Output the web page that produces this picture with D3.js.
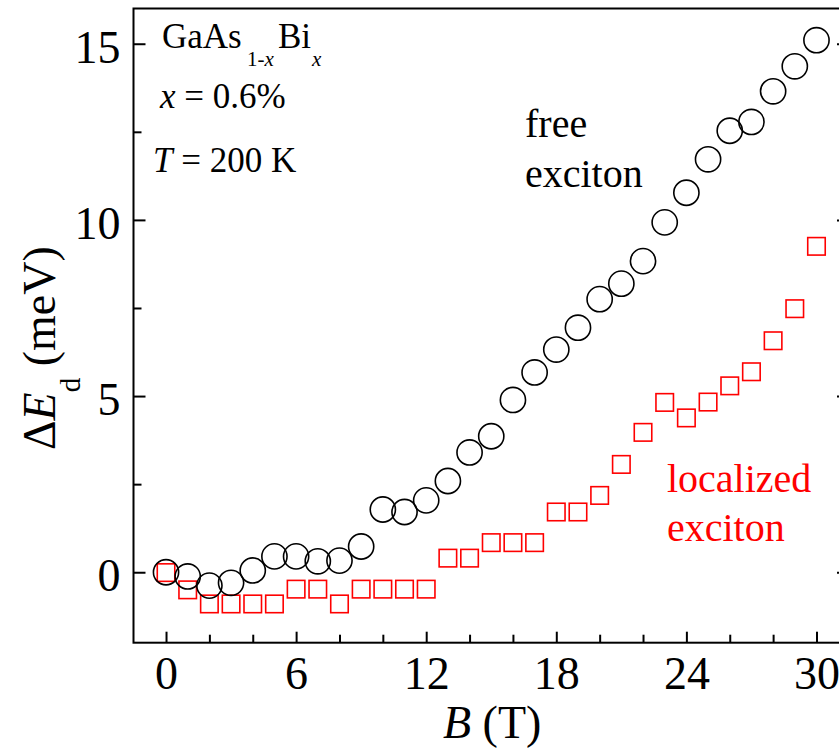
<!DOCTYPE html>
<html>
<head>
<meta charset="utf-8">
<script src="https://cdn.jsdelivr.net/npm/d3@7"></script>
<style>
  html, body { margin: 0; padding: 0; background: #fff; overflow: hidden; }
  svg { display: block; font-family: "Liberation Serif", "Times New Roman", serif; }
  .axis path, .axis line { stroke: #000; stroke-width: 2; }
  .axis .domain { stroke-width: 2; }
</style>
</head>
<body>
<div id="chart"></div>
<script>
(function () {
  "use strict";

  // magnetic field B (T)
  var fieldB = d3.range(0, 31);
  // free exciton, delta E_d (meV)
  var freeExciton = [0.0, -0.12, -0.38, -0.30, 0.05, 0.45, 0.45, 0.31, 0.33, 0.73,
    1.78, 1.71, 2.04, 2.59, 3.40, 3.86, 4.89, 5.67, 6.32, 6.94,
    7.75, 8.19, 8.83, 9.93, 10.77, 11.72, 12.53, 12.78, 13.65, 14.36, 15.10];
  // localized exciton, delta E_d (meV)
  var localizedExciton = [-0.01, -0.50, -0.90, -0.90, -0.90, -0.90, -0.48, -0.48, -0.90, -0.48,
    -0.48, -0.48, -0.48, 0.40, 0.40, 0.84, 0.84, 0.84, 1.71, 1.71,
    2.18, 3.06, 3.97, 4.82, 4.38, 4.83, 5.29, 5.69, 6.57, 7.48, 9.25];

  var xMajor = [0, 6, 12, 18, 24, 30];
  var xMinor = [2, 4, 8, 10, 14, 16, 20, 22, 26, 28];
  var yMajor = [0, 5, 10, 15];
  var yMinor = [2.5, 7.5, 12.5];

  var W = 839, H = 749;
  var left = 133.5, right = 849, top = 8.5, bottom = 642.7;

  var svg = d3.select("#chart").append("svg").attr("width", W).attr("height", H);

  var x = d3.scaleLinear().domain([-1.5, 31.5]).range([left, right]);
  var y = d3.scaleLinear().domain([-2, 16]).range([bottom, top]);

  // frame
  svg.append("rect").attr("x", left).attr("y", top)
    .attr("width", right - left).attr("height", bottom - top)
    .attr("fill", "none").attr("stroke", "#000").attr("stroke-width", 2);

  function styleTicks(g) {
    g.select(".domain").remove();
    g.selectAll("text").attr("font-size", 46).attr("fill", "#000")
      .attr("font-family", "'Liberation Serif', 'Times New Roman', serif");
  }

  // bottom axis
  svg.append("g").attr("class", "axis").attr("transform", "translate(0," + bottom + ")")
    .call(d3.axisBottom(x).tickValues(xMajor).tickSizeInner(-11).tickSizeOuter(0).tickPadding(14).tickFormat(d3.format("d")))
    .call(styleTicks);
  svg.append("g").attr("class", "axis").attr("transform", "translate(0," + bottom + ")")
    .call(d3.axisBottom(x).tickValues(xMinor).tickSizeInner(-8).tickSizeOuter(0).tickFormat(""))
    .call(styleTicks);

  // left axis
  svg.append("g").attr("class", "axis").attr("transform", "translate(" + left + ",0)")
    .call(d3.axisLeft(y).tickValues(yMajor).tickSizeInner(-12).tickSizeOuter(0).tickPadding(13).tickFormat(d3.format("d")))
    .call(styleTicks)
    .selectAll("text").attr("dy", "0.4em");
  svg.append("g").attr("class", "axis").attr("transform", "translate(" + left + ",0)")
    .call(d3.axisLeft(y).tickValues(yMinor).tickSizeInner(-8).tickSizeOuter(0).tickFormat(""))
    .call(styleTicks);

  // right axis (mirrored ticks)
  svg.append("g").attr("class", "axis").attr("transform", "translate(" + right + ",0)")
    .call(d3.axisRight(y).tickValues(yMajor).tickSizeInner(-12).tickSizeOuter(0).tickFormat(""))
    .call(styleTicks);
  svg.append("g").attr("class", "axis").attr("transform", "translate(" + right + ",0)")
    .call(d3.axisRight(y).tickValues(yMinor).tickSizeInner(-8).tickSizeOuter(0).tickFormat(""))
    .call(styleTicks);

  // localized exciton squares
  var sq = 17.5;
  svg.append("g").selectAll("rect").data(fieldB).join("rect")
    .attr("x", function (d) { return x(d) - sq / 2; })
    .attr("y", function (d, i) { return y(localizedExciton[i]) - sq / 2; })
    .attr("width", sq).attr("height", sq)
    .attr("fill", "none").attr("stroke", "#ff0000").attr("stroke-width", 1.6);

  // free exciton circles
  svg.append("g").selectAll("circle").data(fieldB).join("circle")
    .attr("cx", function (d) { return x(d); })
    .attr("cy", function (d, i) { return y(freeExciton[i]); })
    .attr("r", 12.6)
    .attr("fill", "none").attr("stroke", "#000").attr("stroke-width", 1.6);

  // annotations
  var t1 = svg.append("text").attr("x", 162).attr("y", 48).attr("font-size", 35);
  t1.append("tspan").text("GaAs");
  t1.append("tspan").attr("x", 247).attr("dy", 18).attr("font-size", 21).text("1-");
  t1.append("tspan").attr("font-size", 21).attr("font-style", "italic").text("x");
  t1.append("tspan").attr("x", 278).attr("dy", -18).text("Bi");
  t1.append("tspan").attr("x", 312).attr("dy", 18).attr("font-size", 21).attr("font-style", "italic").text("x");

  var t2 = svg.append("text").attr("x", 160).attr("y", 108).attr("font-size", 35);
  t2.append("tspan").attr("font-style", "italic").text("x");
  t2.append("tspan").text(" = 0.6%");

  var t3 = svg.append("text").attr("x", 153).attr("y", 172).attr("font-size", 35);
  t3.append("tspan").attr("font-style", "italic").text("T");
  t3.append("tspan").text(" = 200 K");

  svg.append("text").attr("x", 525).attr("y", 137).attr("font-size", 40).text("free");
  svg.append("text").attr("x", 525).attr("y", 187).attr("font-size", 40).text("exciton");

  svg.append("text").attr("x", 667).attr("y", 492).attr("font-size", 40).attr("fill", "#ff0000").text("localized");
  svg.append("text").attr("x", 667).attr("y", 541).attr("font-size", 40).attr("fill", "#ff0000").text("exciton");

  // axis titles
  var xl = svg.append("text").attr("x", 443).attr("y", 738).attr("font-size", 46);
  xl.append("tspan").attr("font-style", "italic").text("B");
  xl.append("tspan").text(" (T)");

  var yl = svg.append("text").attr("transform", "translate(55,450) rotate(-90)").attr("font-size", 46);
  yl.append("tspan").text("Δ");
  yl.append("tspan").attr("font-style", "italic").text("E");
  yl.append("tspan").attr("dy", 25).attr("font-size", 29).text("d");
  yl.append("tspan").attr("dy", -25).text(" (meV)");
})();
</script>
</body>
</html>
